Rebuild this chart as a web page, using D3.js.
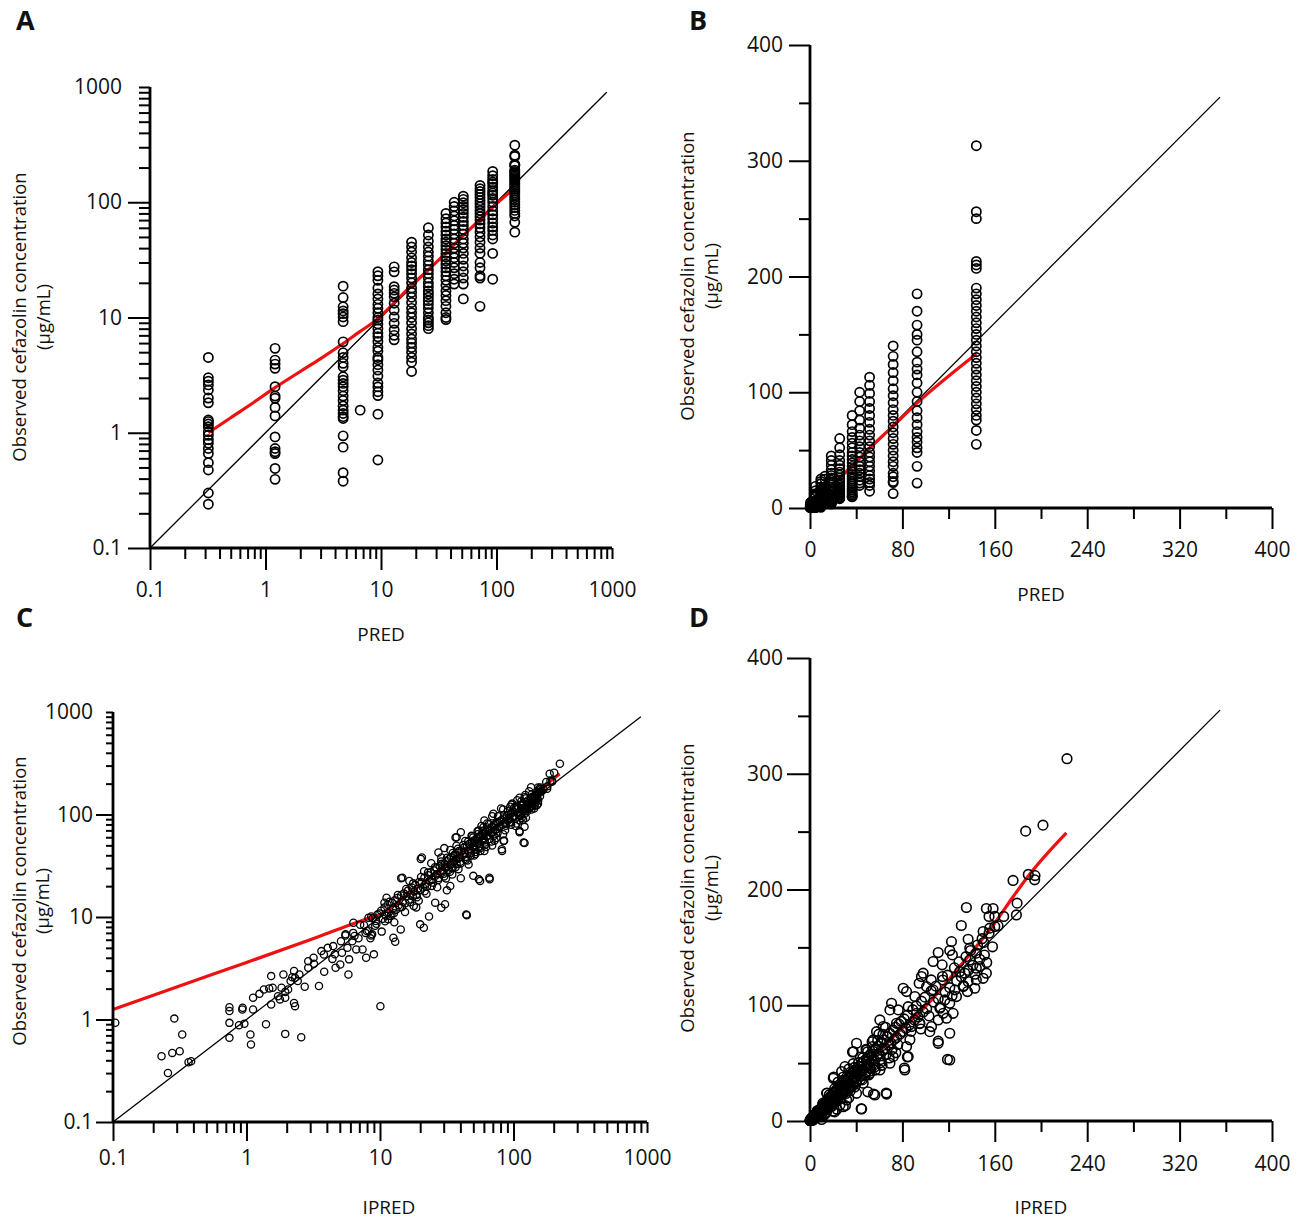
<!DOCTYPE html>
<html>
<head>
<meta charset="utf-8">
<script src="https://cdn.jsdelivr.net/npm/d3@7"></script>
<style>
  body { margin: 0; background: #fff; }
  text { font-family: "Open Sans", "Noto Sans", sans-serif; fill: #111; }
</style>
</head>
<body>
<svg id="fig" width="1299" height="1227"></svg>
<script>

// PRED levels (columns in A and B) and the observed values at each level
var predLevels = [0.32, 1.21, 4.7, 6.6, 9.4, 13, 18.4, 25.7, 36.5, 43, 51.6, 72, 92.7, 144];
var obsByLevel = [
  [4.5, 3.0, 2.8, 2.6, 2.35, 2.0, 1.82, 1.29, 1.25, 1.19, 1.13, 1.02, 0.95, 0.87, 0.81, 0.73, 0.66, 0.55, 0.475, 0.30, 0.24],
  [5.4, 4.27, 3.94, 3.62, 2.51, 2.08, 1.99, 1.66, 1.40, 0.92, 0.73, 0.685, 0.66, 0.49, 0.394],
  [18.7, 14.9, 12.4, 11.4, 10.8, 10.1, 9.2, 6.15, 4.94, 4.5, 4.0, 3.73, 3.06, 2.86, 2.68, 2.51, 2.31, 2.08, 1.9, 1.71, 1.57, 1.47, 1.38, 1.33, 0.94, 0.75, 0.45, 0.38],
  [1.57],
  [25, 23, 21, 18, 16, 14.5, 13, 12, 11, 10, 9.5, 8.8, 8, 7.3, 6.8, 6.2, 5.5, 5.1, 4.5, 4.3, 3.9, 3.5, 3.1, 2.7, 2.5, 2.27, 2.1, 1.45, 0.58],
  [27.5, 24.9, 18.5, 17.3, 16.2, 15.1, 13.3, 11.6, 10.1, 8.9, 7.8, 7.0, 6.4],
  [45, 41, 37, 33, 30, 28, 26, 24, 22, 20, 18, 16.5, 15, 13.5, 12, 11, 10, 9, 8, 7.2, 6.5, 6, 5.5, 5, 4.5, 4.1, 3.4],
  [60, 52, 46, 41, 37, 34, 31, 28.5, 26, 24, 22, 20, 18.5, 17, 16, 15, 14, 13, 12, 11, 10, 9.5, 9, 8.5, 8],
  [80, 72, 66, 61, 56, 52, 48, 45, 42, 39, 36, 33.5, 31, 29, 27, 25, 23, 21, 19, 17, 15.5, 14, 12.5, 11, 10, 9.6],
  [100, 92, 84, 76, 69, 63, 58, 53, 48, 44, 40, 36, 33, 30, 27, 24, 21.5, 19.5],
  [113, 106, 99, 92, 86, 80, 74, 68, 63, 58, 53, 48, 44, 40, 36, 32, 28, 25, 22, 19.5, 14.5],
  [140, 131, 124, 117, 110, 103, 97, 91, 85, 80, 75, 70, 65, 60, 55, 50, 45, 40, 36, 30, 27, 23, 22, 12.5],
  [185, 170, 158, 150, 145, 135, 126, 120, 115, 108, 100, 92, 84, 78, 72, 66, 61, 57, 52, 48, 36, 21.5],
  [313, 256, 250, 213, 210, 207, 190, 185, 180, 175, 170, 165, 160, 155, 150, 145, 140, 135, 130, 125, 120, 115, 110, 105, 100, 95, 90, 85, 80, 76, 67, 55]
];

// smooth (red) line, observed vs PRED
var smoothPred = [[0.32, 1.0], [0.5, 1.35], [0.8, 1.85], [1.2, 2.45], [2, 3.4], [3, 4.4], [4.7, 5.95], [6.5, 7.5], [9, 9.4], [13, 13.4], [18, 18.6], [26, 26.2], [36, 35.8], [50, 50], [70, 69], [92, 90], [144, 133]];

// IPRED / observed pairs (C and D), low range read from C
var ipredLow = [
  [0.104, 0.93], [0.288, 1.02], [0.33, 0.714], [0.231, 0.438], [0.278, 0.472], [0.316, 0.49], [0.258, 0.301], [0.368, 0.383], [0.385, 0.392],
  [0.745, 1.32], [0.745, 1.21], [0.745, 0.927], [0.745, 0.662], [0.879, 0.88], [0.964, 0.907], [0.935, 1.30], [0.93, 1.25],
  [1.07, 0.714], [1.08, 0.57], [1.12, 1.25], [1.12, 1.63], [1.25, 1.78], [1.35, 1.96], [1.48, 2.01], [1.57, 2.04], [1.53, 2.65],
  [1.53, 1.40], [1.72, 1.69], [1.78, 1.57], [1.83, 2.04], [1.89, 2.75], [1.95, 1.63], [1.95, 1.86], [2.05, 1.96], [2.14, 2.37],
  [2.2, 2.59], [2.27, 2.97], [2.31, 2.55], [2.42, 2.37], [2.49, 2.75], [2.27, 1.45], [2.31, 1.35], [1.95, 0.724], [2.57, 0.672],
  [2.73, 2.09], [2.9, 3.2], [3.18, 4.0], [3.49, 2.12], [3.82, 2.92], [3.64, 4.65], [4.06, 5.0], [4.46, 5.2], [4.59, 4.32],
  [4.65, 3.2], [5.04, 3.44], [5.19, 4.48], [5.52, 6.77], [5.87, 3.86], [5.8, 2.75], [6.32, 8.8], [6.44, 6.52], [6.64, 4.83],
  [7.4, 4.83], [7.87, 4.0], [7.97, 7.3], [8.2, 9.85], [8.48, 6.19], [8.73, 6.77], [9.0, 4.32], [10.07, 1.35], [9.3, 9.14],
  [9.58, 10.6], [3.2, 3.5], [3.8, 4.3], [4.4, 3.9], [5.1, 5.8], [5.7, 5.0], [6.3, 7.0], [6.9, 6.2], [7.6, 8.3], [8.2, 7.4],
  [8.8, 9.7], [9.4, 8.6], [9.9, 10.8], [10.8, 13.8], [11.2, 15.4], [12.2, 10.6], [12.6, 6.28], [13, 5.74], [14.3, 7.57],
  [14.7, 24.2], [16.6, 22.5], [20, 8.48], [21.3, 7.87], [20.6, 38], [23.3, 10.1], [28.8, 12.3], [30.7, 13.3], [33.6, 20.1],
  [36.8, 59.6], [44.3, 10.6], [50, 25.2], [55, 23.3], [66, 24.2], [81.7, 45.8], [84.3, 55.3], [119, 53.2], [111, 69]
];

// main band along the identity line
var ipredBand = [
  [10.2, 11.5], [10.5, 9.6], [10.8, 12.4], [11.1, 10.3], [11.4, 13.2], [11.6, 11.0], [12.0, 10.2], [12.3, 13.8], [12.5, 12.1],
  [12.9, 14.6], [13.2, 11.8], [13.5, 15.3], [13.8, 13.0], [14.1, 12.4], [14.4, 16.2], [14.8, 14.1], [15.1, 17.0], [15.5, 13.6],
  [15.8, 15.9], [16.2, 18.1], [16.5, 14.8], [16.9, 16.6], [17.3, 19.4], [17.6, 15.9], [18.0, 17.7], [18.4, 20.6], [18.8, 16.4],
  [19.2, 18.9], [19.6, 22.0], [20.0, 18.2], [10.3, 7.2], [12.8, 8.9], [15.4, 11.2], [17.9, 12.8], [19.5, 14.4],
  [20.5, 21.8], [21.0, 19.4], [21.5, 24.2], [22.0, 21.1], [22.5, 19.8], [23.0, 25.6], [23.5, 22.4], [24.0, 27.3], [24.5, 23.1],
  [25.0, 21.6], [25.5, 28.4], [26.0, 25.2], [26.5, 29.9], [27.0, 26.1], [27.5, 24.0], [28.0, 31.2], [28.5, 27.6], [29.0, 33.0],
  [29.5, 28.2], [30.0, 26.4], [30.5, 32.8], [31.0, 30.1], [31.5, 35.2], [32.0, 31.0], [32.5, 28.6], [33.0, 36.9], [33.5, 32.4],
  [34.0, 38.2], [34.5, 33.1], [35.0, 30.2], [35.5, 39.4], [36.0, 35.0], [36.5, 41.0], [37.0, 36.2], [37.5, 32.8], [38.0, 42.4],
  [38.5, 37.1], [39.0, 44.0], [39.5, 38.5], [40.0, 34.6], [22.3, 16.9], [26.8, 19.5], [31.2, 23.8], [34.8, 26.0], [38.7, 29.3],
  [24.2, 33.5], [28.8, 38.0], [33.6, 45.0], [21.4, 28.0], [37.4, 49.5],
  [40.8, 44.5], [41.6, 40.2], [42.4, 47.3], [43.2, 42.1], [44.0, 38.6], [44.8, 49.8], [45.6, 44.3], [46.4, 51.6], [47.2, 46.0],
  [48.0, 41.9], [48.8, 53.5], [49.6, 48.2], [50.4, 55.8], [51.2, 49.6], [52.0, 45.3], [52.8, 58.1], [53.6, 52.0], [54.4, 60.2],
  [55.2, 53.4], [56.0, 48.7], [57.0, 62.6], [58.0, 56.1], [59.0, 64.8], [60.0, 58.0], [61.0, 53.2], [62.0, 67.9], [63.0, 61.0],
  [64.0, 70.2], [65.0, 62.7], [66.0, 57.6], [67.0, 73.1], [68.0, 65.9], [69.0, 75.8], [70.0, 67.4], [71.0, 61.8], [72.0, 78.6],
  [73.0, 70.5], [74.0, 80.9], [75.0, 72.1], [76.0, 66.0], [77.0, 83.7], [78.0, 75.2], [79.0, 86.0], [80.0, 77.3], [45.2, 35.5],
  [50.8, 39.8], [56.5, 44.0], [62.4, 48.1], [68.6, 54.5], [74.3, 59.0], [43.5, 55.2], [48.5, 62.0], [53.8, 68.5], [59.6, 75.0], [65.4, 81.0],
  [81.5, 88.2], [83.0, 80.1], [84.5, 91.6], [86.0, 83.0], [87.5, 77.5], [89.0, 96.2], [90.5, 87.3], [92.0, 99.4], [93.5, 89.8],
  [95.0, 84.1], [96.5, 103.5], [98.0, 94.2], [99.5, 107.0], [101, 97.0], [103, 90.8], [105, 112.4], [107, 102.7], [109, 116.5],
  [111, 105.6], [113, 98.2], [115, 121.8], [117, 111.4], [119, 126.0], [121, 115.2], [123, 108.1], [125, 132.3], [127, 121.0],
  [129, 137.5], [131, 124.6], [133, 116.9], [135, 142.0], [137, 130.1], [139, 147.3], [141, 134.5], [143, 126.8], [145, 152.0],
  [147, 139.7], [149, 157.5], [151, 143.4], [153, 137.0], [155, 162.3], [158, 150.5], [160, 168.0], [86.5, 70.2], [96.0, 79.5],
  [5.5, 6.6], [6.2, 5.8], [7.1, 8.4], [7.8, 7.0], [8.6, 10.1], [9.2, 8.2], [10.9, 9.1], [11.8, 14.1], [12.7, 10.9], [13.6, 16.4],
  [14.6, 12.5], [15.7, 18.8], [16.8, 13.9], [17.7, 21.3], [18.9, 15.6], [20.3, 24.6], [21.6, 17.8], [22.9, 27.1], [24.4, 20.1],
  [25.8, 30.6], [27.3, 22.9], [28.7, 34.8], [30.2, 24.9], [31.8, 37.9], [33.4, 27.7], [35.1, 42.2], [36.8, 30.5], [38.4, 46.3],
  [40.2, 33.2], [42.0, 50.4], [43.9, 36.1], [45.8, 54.7], [47.7, 39.6], [49.9, 59.8], [51.8, 43.1], [54.0, 64.3], [56.3, 46.9],
  [58.6, 69.5], [60.7, 50.2], [63.2, 74.8]
];

// upper range read from D
var ipredHigh = [
  [222.5, 313], [201.7, 255.6], [186.7, 250.4], [175.8, 207.8], [189, 213], [194.8, 212], [194.5, 208.4], [179.3, 188.2], [178.7, 178],
  [135.4, 184.4], [152.7, 183.6], [158.5, 183.6], [155, 176.7], [160, 176.7], [167.7, 176.7], [131, 168.9], [155.6, 166.6],
  [149.9, 163.7], [162.8, 168.6], [122.5, 155], [136.9, 157], [150.4, 154.2], [138.3, 149.3], [111, 145.5], [121, 147.3],
  [123.3, 143.5], [144, 145], [106.6, 137.8], [114.4, 134.9], [138.3, 139.2], [144, 132], [147, 133.4], [98, 127.7], [96.5, 124.8],
  [114.7, 124.8], [105, 121.9], [129.7, 129.1], [134, 127.7], [152.7, 127.7], [149.9, 123.3], [144, 121.9], [136.9, 120.5],
  [80.7, 114.7], [83.6, 111.8], [94.5, 119], [100.9, 116.1], [90.8, 107.5], [106.6, 113.3], [125.4, 113.3], [132.6, 116.1],
  [142.7, 114.7], [136.3, 111.8], [116.7, 104.6], [121, 101.7], [126.8, 107.5], [70.6, 101.7], [69.2, 96], [76.4, 96], [85, 98.8],
  [92.2, 93], [112.4, 97.4], [115.3, 93], [118.2, 88.8], [123.9, 93], [111, 87.3], [60.5, 87.3], [63.4, 81.6], [74.9, 84.4],
  [87.9, 81.6], [95.1, 84.4], [105.2, 81.6], [103.7, 77.2], [121, 75.8], [111, 67.1], [121, 52.7], [40.3, 67.1], [37.5, 59.9],
  [49, 61.4], [57.6, 77.2], [54.8, 70], [83.6, 64.3], [85, 55.6], [82.1, 44.1], [66.3, 23.3], [44.7, 10.4], [56.2, 22.5],
  [60.5, 44.1], [69.2, 49.9], [72, 55.6], [30.3, 47], [20.2, 36.9], [27.4, 42.7], [34.6, 29.7], [46.1, 32.6], [51.9, 41.2],
  [40.3, 23.9], [31.7, 18.2], [25.9, 13.8], [18.7, 12.4], [11.5, 9.5], [8.6, 6.6], [14.4, 23.9], [2.9, 3.7], [1.4, 0.9]
];

// smooth (red) line, observed vs IPRED
var smoothIpred = [[0.1, 1.25], [0.3, 2.08], [1, 3.6], [3, 6.0], [6, 8.4], [8, 9.6], [10, 10.6], [15, 15.4], [20, 20.4], [35, 35.2], [50, 50], [75, 75.5], [100, 99], [130, 134], [160, 171], [176, 194], [190, 213], [222, 249]];

// tick values
var logMajor = [0.1, 1, 10, 100];
var logLabels = [0.1, 1, 10, 100, 1000];
var linYTicks = [0, 50, 100, 150, 200, 250, 300, 350, 400];
var linYLabels = [0, 100, 200, 300, 400];
var linXTicks = [0, 40, 80, 120, 160, 200, 240, 280, 320, 360, 400];
var linXLabels = [0, 80, 160, 240, 320, 400];

var yTitle1 = "Observed cefazolin concentration";
var yTitle2 = "(\u00b5g/mL)";

// minor log ticks 2..9 per decade, plus the top decade end
var logMinor = [];
[0.1, 1, 10, 100].forEach(function(d) {
  for (var k = 2; k <= 9; k++) logMinor.push(+(k * d).toPrecision(3));
});
logMinor.push(1000);

var predPoints = [];
predLevels.forEach(function(p, i) {
  obsByLevel[i].forEach(function(o) { predPoints.push([p, o]); });
});
var ipredPoints = ipredLow.concat(ipredBand, ipredHigh);

var svg = d3.select("#fig");
var fmtLog = function(d) { return d < 1 ? "0.1" : d3.format("d")(d); };

function tickAxis(g, axis) {
  g.call(axis);
  g.select(".domain").remove();
  g.selectAll("line").attr("stroke", "#000").attr("stroke-width", 2);
  g.selectAll("text").attr("font-size", 21).attr("font-family", '"Open Sans", sans-serif').attr("fill", "#111");
}

function drawPanel(p) {
  var g = svg.append("g");
  var x = p.x, y = p.y;
  var xr = x.range(), yr = y.range();

  // identity line
  g.append("line")
    .attr("x1", x(p.idFrom)).attr("y1", y(p.idFrom))
    .attr("x2", x(p.idTo)).attr("y2", y(p.idTo))
    .attr("stroke", "#000").attr("stroke-width", 1.3);

  // red smooth
  var line = d3.line()
      .x(function(d) { return x(d[0]); })
      .y(function(d) { return y(d[1]); })
      .curve(d3.curveMonotoneX);
  g.append("path").datum(p.red)
    .attr("d", line).attr("fill", "none")
    .attr("stroke", "#ee1111").attr("stroke-width", 3.2);

  // points
  g.selectAll("circle.pt").data(p.points).enter().append("circle")
    .attr("class", "pt")
    .attr("cx", function(d) { return x(d[0]); })
    .attr("cy", function(d) { return y(d[1]); })
    .attr("r", p.r)
    .attr("fill", "none").attr("stroke", "#000").attr("stroke-width", p.sw);

  // ticks
  var xAxisY = yr[0], yAxisX = xr[0];
  tickAxis(g.append("g").attr("transform", "translate(0," + xAxisY + ")"),
    d3.axisBottom(x).tickValues(p.xMajor).tickSize(p.xMajorLen).tickFormat(""));
  tickAxis(g.append("g").attr("transform", "translate(0," + xAxisY + ")"),
    d3.axisBottom(x).tickValues(p.xMinor).tickSize(p.xMinorLen).tickFormat(""));
  tickAxis(g.append("g").attr("transform", "translate(" + yAxisX + ",0)"),
    d3.axisLeft(y).tickValues(p.yMajor).tickSize(p.yMajorLen).tickFormat(""));
  tickAxis(g.append("g").attr("transform", "translate(" + yAxisX + ",0)"),
    d3.axisLeft(y).tickValues(p.yMinor).tickSize(p.yMinorLen).tickFormat(""));

  // labels
  tickAxis(g.append("g").attr("transform", "translate(0," + xAxisY + ")"),
    d3.axisBottom(x).tickValues(p.xLabels).tickSize(0).tickPadding(p.xPad).tickFormat(p.fmt));
  tickAxis(g.append("g").attr("transform", "translate(" + yAxisX + ",0)"),
    d3.axisLeft(y).tickValues(p.yLabels).tickSize(0).tickPadding(p.yPad).tickFormat(p.fmt));

  // axis lines
  g.append("line").attr("x1", xr[0]).attr("x2", xr[1]).attr("y1", xAxisY).attr("y2", xAxisY)
    .attr("stroke", "#000").attr("stroke-width", 2.8);
  g.append("line").attr("x1", yAxisX).attr("x2", yAxisX).attr("y1", yr[0] + 1).attr("y2", yr[1])
    .attr("stroke", "#000").attr("stroke-width", 2.8);

  // titles
  g.append("text").attr("x", p.xTitle[0]).attr("y", p.xTitle[1]).attr("dy", "0.35em")
    .attr("text-anchor", "middle").attr("font-size", 19).text(p.xName);
  var cy = p.yTitle[2];
  g.append("text").attr("transform", "translate(" + p.yTitle[0] + "," + cy + ") rotate(-90)")
    .attr("dy", "0.35em").attr("text-anchor", "middle").attr("font-size", 18.5).text(yTitle1);
  g.append("text").attr("transform", "translate(" + p.yTitle[1] + "," + cy + ") rotate(-90)")
    .attr("dy", "0.35em").attr("text-anchor", "middle").attr("font-size", 18.5).text(yTitle2);

  // panel letter
  svg.append("text").attr("x", p.letter[0]).attr("y", p.letter[1])
    .attr("font-family", '"Liberation Sans", Arial, sans-serif').attr("font-weight", "bold")
    .attr("font-size", 27).text(p.name);
}

var logCfg = {
  xMajor: logMajor, xMinor: logMinor, yMajor: logMajor, yMinor: logMinor,
  xLabels: logLabels, yLabels: logLabels, fmt: fmtLog
};
var linCfg = {
  xMajor: linXLabels, xMinor: linXTicks.filter(function(d) { return d % 80; }),
  yMajor: linYLabels, yMinor: linYTicks.filter(function(d) { return d % 100; }),
  xLabels: linXLabels, yLabels: linYLabels, fmt: d3.format("d")
};

// A
drawPanel(Object.assign({}, logCfg, {
  name: "A", letter: [16, 30],
  x: d3.scaleLog().domain([0.1, 1000]).range([150, 612]),
  y: d3.scaleLog().domain([0.1, 1000]).range([548, 87]),
  points: predPoints, red: smoothPred, idFrom: 0.1, idTo: 900,
  r: 4.6, sw: 1.7,
  xMajorLen: 22, xMinorLen: 11, yMajorLen: 22, yMinorLen: 11, xPad: 34, yPad: 28,
  xName: "PRED", xTitle: [381, 634], yTitle: [20, 44, 317]
}));

// B
drawPanel(Object.assign({}, linCfg, {
  name: "B", letter: [689, 30],
  x: d3.scaleLinear().domain([0, 400]).range([810, 1272]),
  y: d3.scaleLinear().domain([0, 400]).range([508, 45]),
  points: predPoints, red: smoothPred.filter(function(d) { return d[0] >= 9; }), idFrom: 0, idTo: 355,
  r: 4.6, sw: 1.7,
  xMajorLen: 21, xMinorLen: 11, yMajorLen: 21, yMinorLen: 11, xPad: 34, yPad: 27,
  xName: "PRED", xTitle: [1041, 594], yTitle: [688, 712, 276]
}));

// C
drawPanel(Object.assign({}, logCfg, {
  name: "C", letter: [16, 627],
  x: d3.scaleLog().domain([0.1, 1000]).range([113, 647]),
  y: d3.scaleLog().domain([0.1, 1000]).range([1122, 712]),
  points: ipredPoints, red: smoothIpred, idFrom: 0.1, idTo: 900,
  r: 3.6, sw: 1.3,
  xMajorLen: 19, xMinorLen: 11, yMajorLen: 17, yMinorLen: 7, xPad: 28, yPad: 20,
  xName: "IPRED", xTitle: [389, 1207], yTitle: [20, 43, 901]
}));

// D
drawPanel(Object.assign({}, linCfg, {
  name: "D", letter: [689, 627],
  x: d3.scaleLinear().domain([0, 400]).range([810, 1272]),
  y: d3.scaleLinear().domain([0, 400]).range([1121, 658]),
  points: ipredPoints, red: smoothIpred.filter(function(d) { return d[0] >= 8; }), idFrom: 0, idTo: 355,
  r: 4.8, sw: 1.6,
  xMajorLen: 21, xMinorLen: 11, yMajorLen: 23, yMinorLen: 12, xPad: 35, yPad: 27,
  xName: "IPRED", xTitle: [1041, 1207], yTitle: [688, 712, 888]
}));

</script>
</body>
</html>
